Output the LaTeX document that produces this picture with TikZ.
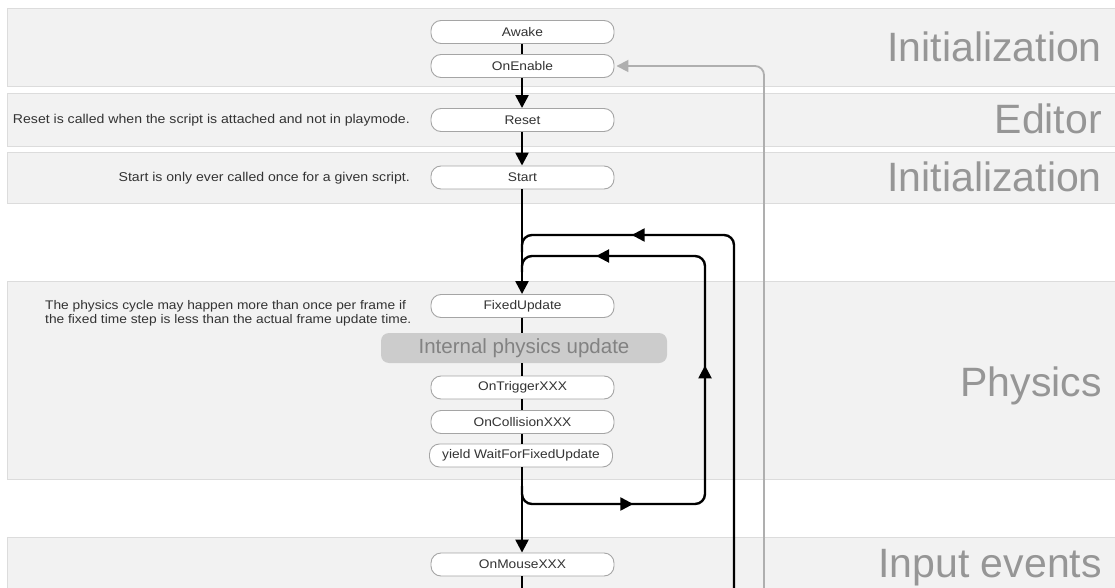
\documentclass[tikz,border=0pt]{standalone}
\usepackage{fontspec}
\setmainfont{Liberation Sans}
\newfontfamily\notefont[FakeStretch=1.1]{Liberation Sans}
\usetikzlibrary{arrows.meta,decorations.markings}
\definecolor{bandfill}{RGB}{242,242,242}
\definecolor{bandline}{RGB}{220,220,220}
\definecolor{boxline}{RGB}{165,165,165}
\definecolor{labelgray}{RGB}{150,150,150}
\definecolor{txt}{RGB}{51,51,51}
\definecolor{physfill}{RGB}{204,204,204}
\definecolor{phystext}{RGB}{130,130,130}
\definecolor{enableline}{RGB}{175,175,175}
\begin{document}
\begin{tikzpicture}[x=1pt,y=-1pt,
  band/.style={fill=bandfill,draw=bandline,line width=0.8pt},
  evt/.style={draw=boxline,fill=white,rounded corners=10pt,minimum width=183pt,minimum height=23pt,inner sep=0pt,font=\notefont\fontsize{12.5}{14}\selectfont,text=txt,line width=0.9pt},
  lane/.style={anchor=base east,inner sep=0pt,font=\fontsize{41}{45}\selectfont,text=labelgray},
  note/.style={inner sep=0pt,font=\notefont\fontsize{12.8}{14.5}\selectfont,text=txt},
  flow/.style={line width=2.4pt,draw=black},
  tip/.style={-{Triangle[width=13pt,length=13pt]}},
]
\useasboundingbox (0,0) rectangle (1115,588);
\fill[white] (0,0) rectangle (1115,588);

% lanes
\path[band] (7,8) rectangle (1125,86);
\path[band] (7,93) rectangle (1125,146);
\path[band] (7,152) rectangle (1125,203);
\path[band] (7,281) rectangle (1125,479);
\path[band] (7,537) rectangle (1125,600);

\node[lane] (l1) at (1102,62) {Initialization};
\node[lane] (l2) at (1102,134) {Editor};
\node[lane] (l3) at (1102,191) {Initialization};
\node[lane] (l4) at (1102,396) {Physics};
\node[lane] (l5) at (1102,577) {Input events};

% notes
\node[note,anchor=east] (nreset) at (410,120) {Reset is called when the script is attached and not in playmode.};
\node[note,anchor=east] (nstart) at (410,178) {Start is only ever called once for a given script.};
\node[note,anchor=west,align=left,font=\notefont\fontsize{12.5}{14.3}\selectfont] (nphys) at (45,313) {The physics cycle may happen more than once per frame if\\the fixed time step is less than the actual frame update time.};

% events
\node[evt] (awake) at (522.5,32) {Awake};
\node[evt] (enable) at (522.5,66) {OnEnable};
\node[evt] (reset) at (522.5,120) {Reset};
\node[evt] (start) at (522.5,177.5) {Start};
\node[evt] (fixed) at (522.5,306) {FixedUpdate};
\node[fill=physfill,rounded corners=8pt,minimum width=286pt,minimum height=30pt,inner sep=0pt,text=phystext,font=\fontsize{20.5}{24}\selectfont] (internal) at (524,348) {Internal physics update};
\node[evt] (trigger) at (522.5,387.5) {OnTriggerXXX};
\node[evt] (collision) at (522.5,422) {OnCollisionXXX};
\node[evt] (yield) at (521,455.5) {yield WaitForFixedUpdate};
\node[evt] (mouse) at (522.5,564.5) {OnMouseXXX};

% coordinates
\coordinate (innerStart) at (522,486);
\coordinate (innerBR) at (705,504);
\coordinate (innerTR) at (705,256);
\coordinate (innerEnd) at (522,272);
\coordinate (outerBottom) at (734,600);
\coordinate (outerTR) at (734,235);
\coordinate (outerEnd) at (522,252);
\coordinate (enableBottom) at (764,600);
\coordinate (mainBottom) at (522,600);

% main flow
\draw[flow] (awake.south -| 522,0) -- (enable.north -| 522,0);
\draw[flow,tip] (enable.south -| 522,0) -- (reset.north -| 522,0);
\draw[flow,tip] (reset.south -| 522,0) -- (start.north -| 522,0);
\draw[flow,tip] (start.south -| 522,0) -- (fixed.north -| 522,0);
\draw[flow] (fixed.south -| 522,0) -- (internal.north -| 522,0);
\draw[flow] (internal.south -| 522,0) -- (trigger.north -| 522,0);
\draw[flow] (trigger.south -| 522,0) -- (collision.north -| 522,0);
\draw[flow] (collision.south -| 522,0) -- (yield.north -| 522,0);
\draw[flow,tip] (yield.south -| 522,0) -- (mouse.north -| 522,0);
\draw[flow] (mouse.south -| 522,0) -- (mainBottom);

% loops
\draw[flow,rounded corners=10pt,postaction={decorate},
  decoration={markings,
    mark=at position 125pt with {\arrow{Triangle[width=13pt,length=13pt]}},
    mark=at position 331pt with {\arrow{Triangle[width=13pt,length=13pt]}},
    mark=at position 545pt with {\arrow{Triangle[width=13pt,length=13pt]}}}]
  (innerStart) |- (innerBR) -- (innerTR) -| (innerEnd);
\draw[flow,rounded corners=10pt,postaction={decorate},
  decoration={markings,
    mark=at position 463pt with {\arrow{Triangle[width=13pt,length=13pt]}}}]
  (outerBottom) -- (outerTR) -| (outerEnd);

% OnEnable return line
\draw[draw=enableline,line width=1.8pt,rounded corners=9pt,-{Triangle[width=12pt,length=12pt]},shorten >=2pt] (enableBottom) |- (enable.east);
\end{tikzpicture}
\end{document}
